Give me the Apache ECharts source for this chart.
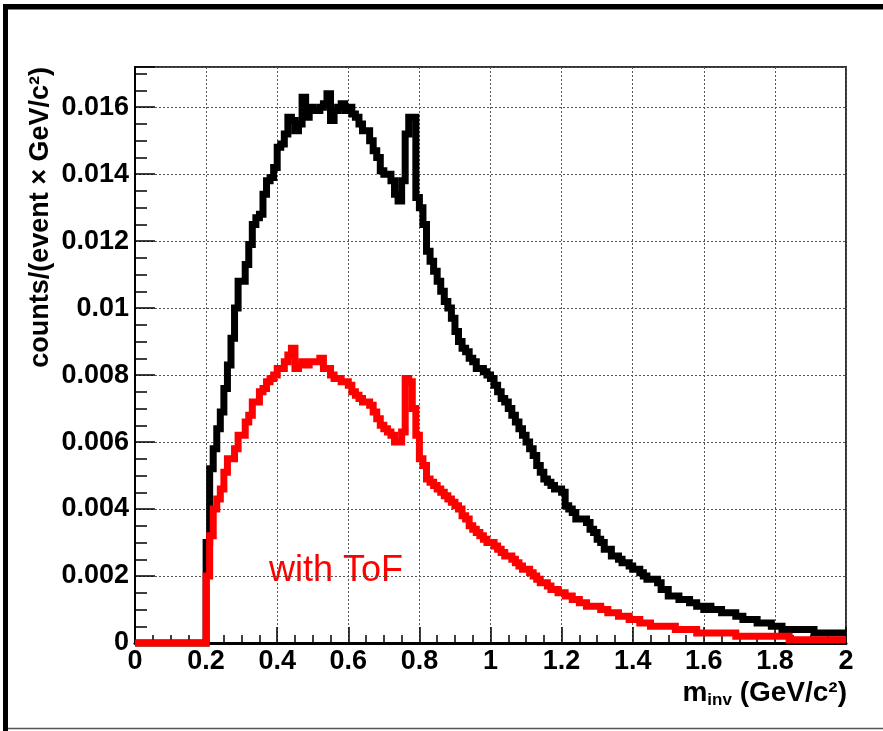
<!DOCTYPE html>
<html>
<head>
<meta charset="utf-8">
<script src="https://cdn.jsdelivr.net/npm/echarts@6/dist/echarts.min.js"></script>
<style>
  html, body { margin: 0; padding: 0; background: #fff; }
  #chart-ctn { width: 883px; height: 731px; }
</style>
</head>
<body>
<div id="chart-ctn"></div>
<script>
// bins of 0.01 GeV/c^2 from 0 to 2
var binWidth = 0.01;

// all pairs (black)
var countsAll = [
  0, 0, 0, 0, 0, 0, 0, 0, 0, 0,
  0, 0, 0, 0, 0, 0, 0, 0, 0, 0,
  0.0030, 0.0052, 0.0058, 0.0064, 0.0069, 0.0076, 0.0083, 0.0091, 0.0100, 0.0108,
  0.0108, 0.0113, 0.0119, 0.0125, 0.0127, 0.0128, 0.0134, 0.0138, 0.0139, 0.0142,
  0.0148, 0.0149, 0.0152, 0.0157, 0.0156, 0.0153, 0.0155, 0.0163, 0.0157, 0.0160,
  0.0159, 0.0159, 0.0160, 0.0161, 0.0164, 0.0156, 0.0159, 0.0160, 0.0161, 0.0159,
  0.0160, 0.0158, 0.0157, 0.0155, 0.0153, 0.0153, 0.0150, 0.0147, 0.0145, 0.0141,
  0.0140, 0.0140, 0.0138, 0.0134, 0.0132, 0.0138, 0.0152, 0.0157, 0.0157, 0.0133,
  0.0130, 0.0125, 0.0117, 0.0114, 0.0111, 0.0108, 0.0105, 0.0102, 0.0100, 0.0097,
  0.0093, 0.0090, 0.0088, 0.0087, 0.0085, 0.0084, 0.0082, 0.0082, 0.0081, 0.0080,
  0.0079, 0.0077, 0.0075, 0.0073, 0.0072, 0.0070, 0.0068, 0.0066, 0.0064, 0.0062,
  0.0060, 0.0058, 0.0056, 0.0053, 0.0051, 0.0049, 0.0048, 0.0047, 0.0046, 0.0046,
  0.0045, 0.0041, 0.0040, 0.0039, 0.0037, 0.0037, 0.0037, 0.0036, 0.0034, 0.0033,
  0.0031, 0.0030, 0.0028, 0.0028, 0.0026, 0.0026, 0.0025, 0.0024, 0.0024, 0.0023,
  0.0022, 0.0022, 0.0021, 0.0020, 0.0019, 0.0019, 0.0019, 0.0018, 0.0016, 0.0016,
  0.0014, 0.0014, 0.0014, 0.0013, 0.0013, 0.0013, 0.0012, 0.0012, 0.0011, 0.0011,
  0.0010, 0.0011, 0.0010, 0.0010, 0.0010, 0.0009, 0.0009, 0.0009, 0.0009, 0.0008,
  0.0008, 0.0007, 0.0007, 0.0007, 0.0007, 0.0006, 0.0006, 0.0006, 0.0006, 0.0005,
  0.0005, 0.0005, 0.0004, 0.0004, 0.0004, 0.0004, 0.0004, 0.0004, 0.0004, 0.0004,
  0.0004, 0.0003, 0.0003, 0.0003, 0.0003, 0.0003, 0.0003, 0.0003, 0.0003, 0.0003
];

// pairs with ToF (red)
var countsToF = [
  0, 0, 0, 0, 0, 0, 0, 0, 0, 0,
  0, 0, 0, 0, 0, 0, 0, 0, 0, 0,
  0.0020, 0.0032, 0.0040, 0.0043, 0.0046, 0.0051, 0.0055, 0.0055, 0.0058, 0.0062,
  0.0062, 0.0066, 0.0068, 0.0072, 0.0072, 0.0075, 0.0076, 0.0078, 0.0079, 0.0080,
  0.0082, 0.0082, 0.0084, 0.0086, 0.0088, 0.0082, 0.0083, 0.0084, 0.0083, 0.0084,
  0.0084, 0.0084, 0.0085, 0.0082, 0.0082, 0.0080, 0.0079, 0.0079, 0.0078, 0.0078,
  0.0077, 0.0075, 0.0074, 0.0073, 0.0072, 0.0072, 0.0071, 0.0069, 0.0067, 0.0065,
  0.0064, 0.0063, 0.0062, 0.0060, 0.0060, 0.0063, 0.0079, 0.0078, 0.0070, 0.0062,
  0.0055, 0.0053, 0.0049, 0.0048, 0.0047, 0.0046, 0.0045, 0.0044, 0.0043, 0.0042,
  0.0041, 0.0040, 0.0038, 0.0037, 0.0035, 0.0034, 0.0033, 0.0032, 0.0031, 0.0030,
  0.0030, 0.0029, 0.0028, 0.0027, 0.0026, 0.0026, 0.0025, 0.0024, 0.0023, 0.0022,
  0.0022, 0.0021, 0.0020, 0.0019, 0.0018, 0.0018, 0.0017, 0.0016, 0.0016, 0.0015,
  0.0015, 0.0014, 0.0014, 0.0013, 0.0013, 0.0012, 0.0012, 0.0011, 0.0011, 0.0011,
  0.0011, 0.0010, 0.0010, 0.0009, 0.0009, 0.0009, 0.0008, 0.0008, 0.0008, 0.0007,
  0.0007, 0.0007, 0.0006, 0.0006, 0.0006, 0.0005, 0.0005, 0.0005, 0.0005, 0.0005,
  0.0005, 0.0005, 0.0004, 0.0004, 0.0004, 0.0004, 0.0004, 0.0004, 0.0003, 0.0003,
  0.0003, 0.0003, 0.0003, 0.0003, 0.0003, 0.0003, 0.0003, 0.0003, 0.0003, 0.0002,
  0.0002, 0.0002, 0.0002, 0.0002, 0.0002, 0.0002, 0.0002, 0.0002, 0.0002, 0.0002,
  0.0002, 0.0002, 0.0002, 0.0002, 0.0001, 0.0001, 0.0001, 0.0001, 0.0001, 0.0001,
  0.0001, 0.0001, 0.0001, 0.0001, 0.0001, 0.0001, 0.0001, 0.0001, 0.0001, 0.0001
];

var xRange = [0, 2];
var yRange = [0, 0.0172];
var xStep = 0.2;
var yStep = 0.002;

var yTitle = 'counts/(event \u00d7 GeV/c\u00b2)';
var legendText = 'with ToF';

// histogram -> [lowEdge, value] points, closing the last bin
function toSteps(vals) {
  var pts = [];
  for (var i = 0; i < vals.length; i++) {
    pts.push([i * binWidth, vals[i]]);
  }
  pts.push([vals.length * binWidth, vals[vals.length - 1]]);
  return pts;
}

var font = "'Liberation Sans', Arial, sans-serif";

var myChart = echarts.init(document.getElementById('chart-ctn'));

var option = {
  animation: false,
  backgroundColor: '#fff',
  grid: {
    left: 135, right: 37, top: 67, bottom: 88,
    containLabel: false,
    outerBoundsMode: 'none',
    show: true,
    borderColor: '#333',
    borderWidth: 2,
    backgroundColor: '#fff'
  },
  xAxis: {
    type: 'value',
    min: xRange[0], max: xRange[1], interval: xStep,
    axisLine: { show: true, onZero: false, lineStyle: { color: '#000', width: 3 } },
    axisTick: { show: true, inside: true, length: 16, lineStyle: { color: '#000', width: 1.5 } },
    minorTick: { show: true, splitNumber: 4, length: 8, lineStyle: { color: '#000', width: 1.5 } },
    axisLabel: { color: '#000', fontFamily: font, fontWeight: 'bold', fontSize: 27, margin: 5 },
    splitLine: { show: true, lineStyle: { color: '#555', width: 1, type: [2, 2] } }
  },
  yAxis: {
    type: 'value',
    min: yRange[0], max: yRange[1], interval: yStep,
    axisLine: { show: true, onZero: false, lineStyle: { color: '#000', width: 2 } },
    axisTick: { show: true, inside: true, length: 20, lineStyle: { color: '#000', width: 1.5 } },
    minorTick: { show: true, splitNumber: 4, length: 12, lineStyle: { color: '#000', width: 1.5 } },
    axisLabel: { color: '#000', fontFamily: font, fontWeight: 'bold', fontSize: 27, margin: 6, showMaxLabel: false },
    splitLine: { show: true, lineStyle: { color: '#555', width: 1, type: [2, 2] } }
  },
  series: [
    {
      type: 'line',
      step: 'end',
      data: toSteps(countsAll),
      showSymbol: false,
      clip: false,
      lineStyle: { color: '#000', width: 7, join: 'miter', cap: 'butt' },
      z: 3
    },
    {
      type: 'line',
      step: 'end',
      data: toSteps(countsToF),
      showSymbol: false,
      clip: false,
      lineStyle: { color: '#ff0000', width: 7, join: 'miter', cap: 'butt' },
      z: 4
    }
  ],
  graphic: [
    // canvas frame
    { type: 'rect', shape: { x: 3, y: 4, width: 880, height: 5.5 }, style: { fill: '#000' } },
    { type: 'rect', shape: { x: 3, y: 4, width: 5, height: 727 }, style: { fill: '#000' } },
    { type: 'line', shape: { x1: 8, y1: 728.5, x2: 883, y2: 728.5 }, style: { stroke: '#555', lineWidth: 1.5 } },
    {
      type: 'text', x: 41, y: 67, rotation: Math.PI / 2,
      style: {
        text: yTitle, fill: '#000', align: 'right', verticalAlign: 'middle',
        fontFamily: font, fontWeight: 'bold', fontSize: 27
      }
    },
    {
      type: 'text', x: 847, y: 693,
      style: {
        text: '{m|m}{s|inv}{m| (GeV/c\u00b2)}',
        align: 'right', verticalAlign: 'middle',
        rich: {
          m: { fontFamily: font, fontWeight: 'bold', fontSize: 28, fill: '#000', lineHeight: 32, verticalAlign: 'middle' },
          s: { fontFamily: font, fontWeight: 'bold', fontSize: 17, fill: '#000', lineHeight: 32, verticalAlign: 'bottom' }
        }
      }
    },
    {
      type: 'text', x: 269, y: 571,
      style: {
        text: legendText, fill: '#ff0000', align: 'left', verticalAlign: 'middle',
        fontFamily: font, fontSize: 36
      }
    }
  ]
};

myChart.setOption(option);
</script>
</body>
</html>
